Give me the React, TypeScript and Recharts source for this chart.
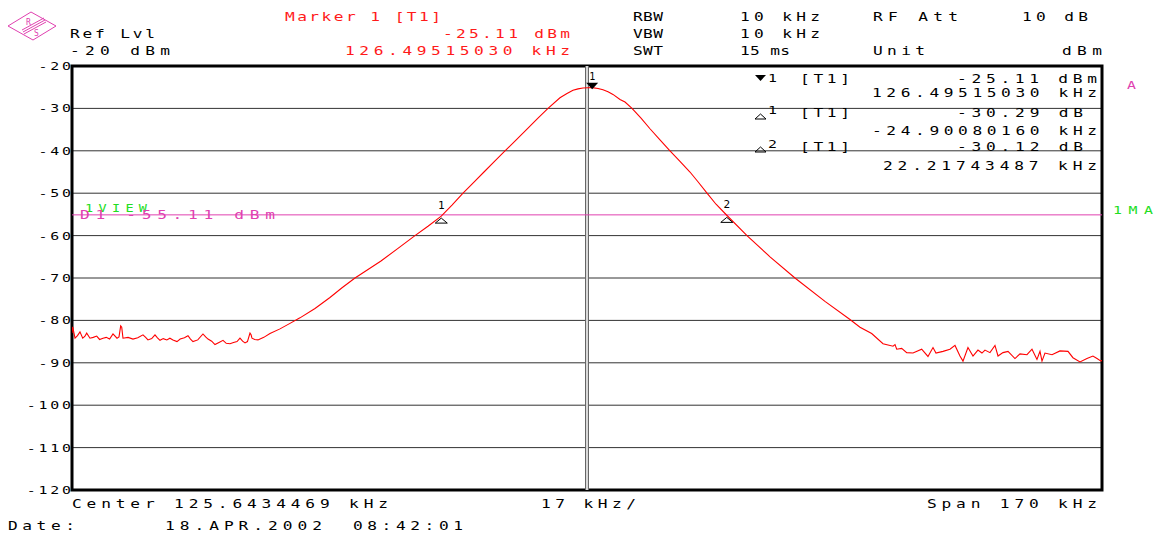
import React from 'react';
import { LineChart, Line, XAxis, YAxis, CartesianGrid, ReferenceLine, ReferenceDot, ReferenceArea } from 'recharts';

const FONT = "'DejaVu Sans Mono', 'Liberation Mono', monospace";
const SX = 1.35; // the analyzer font is wide and flat

// sweep: center 125.6434469 kHz, span 170 kHz, 17 kHz/div
const xTicks = [
  40.6434469, 57.6434469, 74.6434469, 91.6434469, 108.6434469, 125.6434469,
  142.6434469, 159.6434469, 176.6434469, 193.6434469, 210.6434469,
];
const yTicks = [-20, -30, -40, -50, -60, -70, -80, -90, -100, -110, -120];

// trace, kHz / dBm
const freqKHz = [
  40.64, 40.76, 41.14, 41.55, 41.96, 42.41, 42.75, 43.07, 43.61, 44.15,
  44.72, 45.2, 45.76, 46.3, 46.85, 47.41, 48.07, 48.4, 48.68, 48.85,
  49.06, 49.9, 50.71, 51.5, 52.36, 52.8, 53.18, 53.8, 54.34, 54.75,
  55.17, 55.7, 56.3, 56.8, 57.31, 57.97, 58.5, 59.2, 59.79, 60.2,
  60.61, 61.4, 62.26, 62.7, 63.09, 63.7, 64.24, 64.9, 65.57, 66.1,
  66.72, 67.3, 67.88, 68.37, 68.8, 69.2, 69.6, 70.02, 70.2, 70.35,
  70.8, 71.34, 72.3, 73.32, 74.97, 76.62, 78.27, 80.75, 83.22, 85.21,
  87.35, 89.5, 91.64, 94.45, 97.25, 99.4, 101.59, 103.36, 105.18, 106.99,
  108.64, 110.46, 112.11, 113.92, 115.74, 117.55, 119.21, 121.18, 122.34, 123.33,
  124.16, 124.98, 125.81, 126.5, 127.46, 128.28, 129.11, 129.93, 131.09, 131.92,
  133.07, 134.56, 136.04, 137.69, 139.34, 140.99, 142.64, 143.96, 145.45, 146.94,
  148.71, 152.05, 155.85, 159.97, 164.92, 169.05, 170.7, 172.63, 174.5, 176.15,
  176.48, 176.76, 177.58, 178.41, 179.45, 180.88, 181.92, 182.75, 183.24, 184.4,
  185.55, 186.38, 187.2, 187.7, 188.52, 189.35, 190.17, 190.83, 191.33, 192.15,
  192.98, 193.48, 194.3, 195.13, 196.28, 197.11, 198.26, 199.09, 199.91, 200.41,
  200.74, 201.23, 202.39, 203.71, 205.03, 205.85, 207.01, 208.16, 209.15, 209.82,
  210.47, 210.64,
];
const levelDbm = [
  -83.0, -81.5, -84.2, -83.6, -82.7, -84.2, -83.8, -83.0, -84.2, -84.0,
  -83.7, -84.5, -84.2, -84.0, -84.4, -83.2, -84.2, -83.9, -81.3, -81.6,
  -84.2, -84.0, -84.4, -84.1, -83.4, -84.0, -84.6, -84.3, -83.4, -84.1,
  -84.7, -84.3, -84.6, -84.2, -84.6, -85.0, -84.4, -84.1, -83.6, -84.4,
  -85.0, -84.6, -83.2, -83.9, -84.4, -84.9, -85.7, -85.2, -84.7, -85.4,
  -85.5, -85.2, -85.0, -84.2, -84.9, -85.3, -85.0, -83.0, -83.4, -84.2,
  -84.5, -84.6, -84.0, -83.1, -82.0, -80.7, -79.4, -77.2, -74.6, -72.3,
  -70.0, -68.0, -66.0, -63.0, -60.0, -57.8, -55.4, -52.8, -50.0, -47.4,
  -45.0, -42.4, -40.0, -37.5, -34.9, -32.3, -30.0, -27.5, -26.5, -25.7,
  -25.4, -25.2, -25.12, -25.11, -25.3, -25.6, -26.1, -26.7, -27.9, -28.5,
  -30.0, -32.3, -34.8, -37.4, -40.0, -42.5, -45.0, -47.3, -50.0, -52.6,
  -55.2, -60.0, -65.0, -70.0, -75.5, -79.8, -81.6, -83.1, -85.5, -86.1,
  -85.7, -86.8, -86.6, -87.6, -87.7, -86.8, -88.5, -86.4, -87.7, -87.3,
  -86.8, -85.9, -88.4, -89.6, -86.4, -88.4, -87.0, -87.7, -87.0, -87.6,
  -85.9, -88.4, -87.6, -87.3, -89.0, -87.9, -88.1, -86.8, -89.2, -87.3,
  -89.6, -87.7, -88.1, -87.2, -87.3, -88.8, -89.8, -89.0, -88.4, -89.0,
  -89.6, -89.4,
];

// marker 1 and the two delta markers
const markerNames = ['1', '1', '2'];
const markerFreq = [126.4951503, 101.5943487, 148.7125852];
const markerLevel = [-25.11, -55.4, -55.23];
const displayLine = -55.11;

const trace = freqKHz.map((f, i) => ({ f, level: levelDbm[i] }));

const YTick = ({ x, y, payload }: any) => {
  const s = String(payload.value);
  const w = s.length * 11.8 - 3;
  return (
    <text transform={`translate(${x + 3},${y + 4}) scale(${SX},1)`} textAnchor="end" textLength={w / SX}
      lengthAdjust="spacing" fontFamily={FONT} fontSize={11} fill="#000">
      {s}
    </text>
  );
};

const MainMarker = ({ cx, cy }: any) => (
  <g>
    <polygon points={`${cx - 6},${cy - 5} ${cx + 6},${cy - 5} ${cx},${cy + 1.5}`} fill="#000" />
    <text x={cx} y={cy - 8} textAnchor="middle" fontFamily={FONT} fontSize={10} fill="#000">{markerNames[0]}</text>
  </g>
);

const deltaMarker = (name: string) => ({ cx, cy }: any) => (
  <g>
    <polygon points={`${cx},${cy + 2} ${cx + 6},${cy + 7} ${cx - 6},${cy + 7}`} fill="none" stroke="#000" strokeWidth={1} />
    <text x={cx} y={cy - 7} textAnchor="middle" fontFamily={FONT} fontSize={11} fill="#000">{name}</text>
  </g>
);

const T = ({ x, y, w, c = '#000', s = 12, children }: any) => (
  <text transform={`translate(${x},${y}) scale(${SX},1)`} textLength={w / SX} lengthAdjust="spacing"
    fill={c} fontSize={s} fontFamily={FONT}>
    {children}
  </text>
);

const RED = '#ff1a1a';
const MAG = '#e040b0';
const GRN = '#22dd22';

export default function App() {
  return (
    <div style={{ position: 'absolute', left: 0, top: 0, width: 1162, height: 536, background: '#fff' }}>
      <LineChart width={1162} height={536} data={trace} margin={{ top: 66, right: 60, bottom: 46, left: 0 }}>
        <CartesianGrid stroke="#333" strokeWidth={1} />
        <XAxis
          dataKey="f"
          type="number"
          domain={[xTicks[0], xTicks[10]]}
          ticks={xTicks}
          allowDataOverflow
          height={0}
          tick={false}
          tickLine={false}
          axisLine={false}
        />
        <YAxis
          type="number"
          domain={[-120, -20]}
          ticks={yTicks}
          interval={0}
          width={72}
          tickLine={false}
          axisLine={false}
          tickSize={0}
          tickMargin={4}
          tick={<YTick />}
        />
        <ReferenceLine x={xTicks[5]} stroke="#666" strokeWidth={4} />
        <ReferenceLine x={xTicks[5]} stroke="#fff" strokeWidth={1.5} />
        <ReferenceLine y={displayLine} stroke={MAG} strokeWidth={1} />
        <ReferenceArea x1={xTicks[0]} x2={xTicks[10]} y1={-120} y2={-20} fill="#fff" fillOpacity={0} stroke="#000" strokeWidth={3} />
        <Line dataKey="level" type="linear" stroke="#ff0000" strokeWidth={1.1} dot={false} isAnimationActive={false} />
        <ReferenceDot x={markerFreq[0]} y={markerLevel[0]} r={0} shape={<MainMarker />} />
        <ReferenceDot x={markerFreq[1]} y={markerLevel[1]} r={0} shape={deltaMarker(markerNames[1])} />
        <ReferenceDot x={markerFreq[2]} y={markerLevel[2]} r={0} shape={deltaMarker(markerNames[2])} />
      </LineChart>

      <svg width={1162} height={536} style={{ position: 'absolute', left: 0, top: 0, pointerEvents: 'none' }}>
        {/* R&S logo */}
        <polygon points="8,26 31,12 56,26 33,40" fill="none" stroke={MAG} strokeWidth={1} />
        <line x1={22} y1={30} x2={44} y2={18} stroke={MAG} strokeWidth={1} />
        <line x1={23} y1={32} x2={45} y2={20} stroke={MAG} strokeWidth={1} />
        <line x1={24} y1={34} x2={46} y2={22} stroke={MAG} strokeWidth={1} />
        <text x={26} y={25} fontSize={8} fill={MAG} fontFamily={FONT}>R</text>
        <text x={34} y={36} fontSize={8} fill={MAG} fontFamily={FONT}>S</text>

        <T x={70} y={38} w={85}>Ref Lvl</T>
        <T x={70} y={55} w={100}>-20 dBm</T>

        <T x={285} y={21} w={156} c={RED}>Marker 1 [T1]</T>
        <T x={443} y={38} w={127} c={RED}>-25.11 dBm</T>
        <T x={345} y={55} w={225} c={RED}>126.49515030 kHz</T>

        <T x={633} y={21} w={30}>RBW</T>
        <T x={633} y={38} w={30}>VBW</T>
        <T x={633} y={55} w={30}>SWT</T>
        <T x={740} y={21} w={80}>10 kHz</T>
        <T x={740} y={38} w={80}>10 kHz</T>
        <T x={740} y={55} w={50}>15 ms</T>
        <T x={873} y={21} w={85}>RF Att</T>
        <T x={873} y={55} w={52}>Unit</T>
        <T x={1022} y={21} w={66}>10 dB</T>
        <T x={1062} y={55} w={40}>dBm</T>

        {/* marker table */}
        <polygon points="755,75 766,75 760.5,81" fill="#000" />
        <T x={768} y={82} w={8} s={11}>1</T>
        <T x={800} y={83} w={50}>[T1]</T>
        <T x={957} y={83} w={140}>-25.11 dBm</T>
        <T x={872} y={97} w={225}>126.49515030 kHz</T>

        <polygon points="760.5,114 766,119 755,119" fill="none" stroke="#000" strokeWidth={1} />
        <T x={768} y={114} w={8} s={11}>1</T>
        <T x={800} y={117} w={50}>[T1]</T>
        <T x={957} y={117} w={126}>-30.29 dB</T>
        <T x={872} y={135} w={225}>-24.90080160 kHz</T>

        <polygon points="760.5,147 766,152 755,152" fill="none" stroke="#000" strokeWidth={1} />
        <T x={768} y={148} w={8} s={11}>2</T>
        <T x={800} y={151} w={50}>[T1]</T>
        <T x={957} y={151} w={126}>-30.12 dB</T>
        <T x={883} y={170} w={214}>22.21743487 kHz</T>

        <T x={1127} y={89} w={10} s={11} c={MAG}>A</T>
        <T x={1113} y={214} w={40} s={11} c={GRN}>1MA</T>

        <T x={85} y={212} w={62} s={10} c={GRN}>1VIEW</T>
        <T x={80} y={219} w={195} c={MAG}>D1 -55.11 dBm</T>

        <T x={72} y={508} w={316}>Center 125.6434469 kHz</T>
        <T x={541} y={508} w={95}>17 kHz/</T>
        <T x={927} y={508} w={170}>Span 170 kHz</T>
        <T x={8} y={530} w={67}>Date:</T>
        <T x={165} y={530} w={157}>18.APR.2002</T>
        <T x={353} y={530} w={110}>08:42:01</T>
      </svg>
    </div>
  );
}
